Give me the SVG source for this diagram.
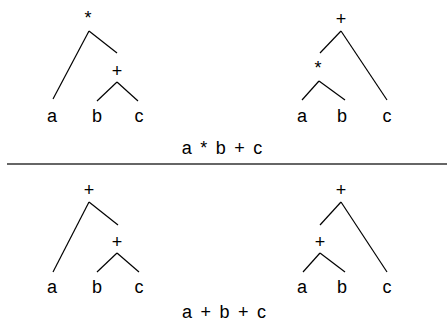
<svg xmlns="http://www.w3.org/2000/svg" width="447" height="327" viewBox="0 0 447 327">
<style>
text{font-family:"Liberation Sans",Arial,sans-serif;font-size:18px;fill:#000;text-anchor:middle}
.expr{word-spacing:3.5px}
.e line{stroke:#000;stroke-width:1.2}
</style>
<rect width="447" height="327" fill="#fff"/>
<g id="connectors" class="e">
<line x1="89" y1="31" x2="53" y2="99"/>
<line x1="89" y1="31" x2="117" y2="53"/>
<line x1="117" y1="82" x2="97" y2="101"/>
<line x1="117" y1="82" x2="138" y2="101"/>
<line x1="341" y1="31" x2="320" y2="53"/>
<line x1="341" y1="31" x2="387" y2="100"/>
<line x1="319" y1="81" x2="302" y2="100"/>
<line x1="319" y1="81" x2="345" y2="100"/>
<line x1="89" y1="202" x2="53" y2="272"/>
<line x1="89" y1="202" x2="118" y2="225"/>
<line x1="117" y1="253" x2="97" y2="272"/>
<line x1="117" y1="253" x2="139" y2="272"/>
<line x1="341" y1="202" x2="320" y2="225"/>
<line x1="341" y1="202" x2="387" y2="272"/>
<line x1="320" y1="253" x2="303" y2="272"/>
<line x1="320" y1="253" x2="345" y2="272"/>
</g>
<g id="tree1">
<text x="88" y="24">*</text>
<text x="117" y="77">+</text>
<text x="52" y="122">a</text>
<text x="97" y="122">b</text>
<text x="139" y="122">c</text>
</g>
<g id="tree2">
<text x="341" y="25">+</text>
<text x="318" y="74">*</text>
<text x="302" y="122">a</text>
<text x="342" y="122">b</text>
<text x="387" y="122">c</text>
</g>
<g id="label1"><text class="expr" x="222" y="154">a * b + c</text></g>
<line id="divider" x1="7" y1="164" x2="447" y2="164" stroke="#666" stroke-width="2"/>
<g id="tree3">
<text x="89" y="196">+</text>
<text x="117" y="248">+</text>
<text x="52" y="293">a</text>
<text x="97" y="293">b</text>
<text x="139" y="293">c</text>
</g>
<g id="tree4">
<text x="341" y="196">+</text>
<text x="320" y="248">+</text>
<text x="302" y="293">a</text>
<text x="342" y="293">b</text>
<text x="387" y="293">c</text>
</g>
<g id="label2"><text class="expr" x="224" y="318">a + b + c</text></g>
</svg>
